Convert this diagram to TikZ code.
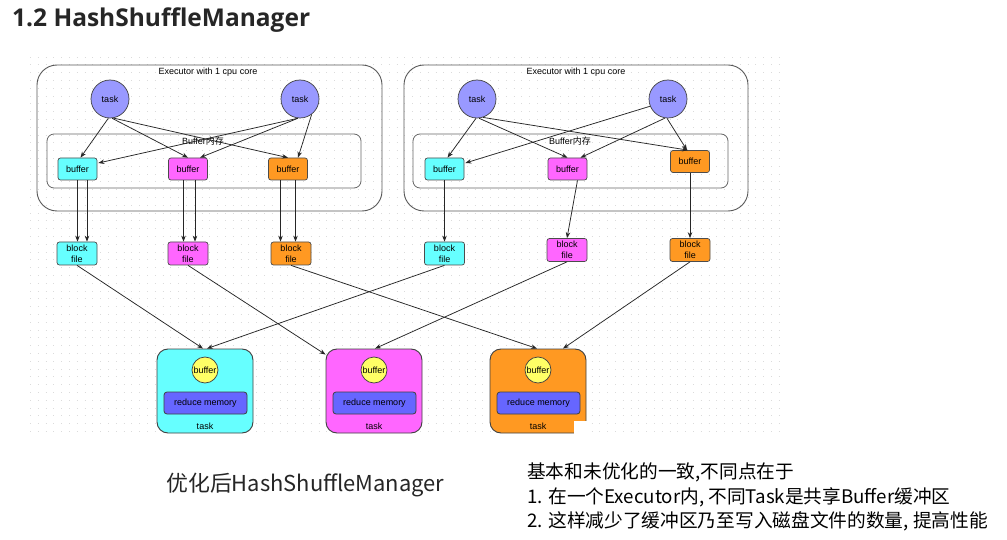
\documentclass[tikz,border=0pt]{standalone}
\usepackage{fontspec}
\setmainfont{Liberation Sans}
\newfontfamily\cjk{Noto Sans CJK SC}
\newfontfamily\ttl{Open Sans}
\usetikzlibrary{arrows.meta,calc}
\definecolor{cy}{HTML}{66FFFF}
\definecolor{mg}{HTML}{FF66FF}
\definecolor{og}{HTML}{FF9922}
\definecolor{tblue}{HTML}{9999FF}
\definecolor{yel}{HTML}{FFFF66}
\definecolor{rblue}{HTML}{6666FF}
\begin{document}
\begin{tikzpicture}[x=1pt,y=-1pt,
  every node/.style={font=\fontsize{9}{10}\selectfont, inner sep=0pt},
  exec/.style={draw=black!65, line width=0.9pt, rounded corners=20pt, minimum height=146pt},
  bufmem/.style={draw=black!60, line width=0.8pt, rounded corners=7pt, minimum height=54pt},
  taskc/.style={circle, draw=black!75, line width=0.7pt, fill=tblue, minimum size=38pt},
  bufbox/.style={draw=black!70, line width=0.7pt, rounded corners=2.5pt, minimum width=39pt, minimum height=22pt},
  blkbox/.style={bufbox, minimum width=40pt, minimum height=23pt, align=center, font=\fontsize{9}{11}\selectfont},
  rtask/.style={draw=black!75, line width=0.9pt, rounded corners=11pt, minimum width=96pt, minimum height=84pt},
  ycirc/.style={circle, draw=black!75, line width=0.7pt, fill=yel, minimum size=26pt},
  redm/.style={draw=black!75, line width=0.8pt, rounded corners=3pt, fill=rblue, minimum width=83pt, minimum height=22pt},
  arr/.style={draw=black!85, line width=0.75pt, -{Stealth[length=6pt,width=4.5pt]}},
  gridl/.style={draw=black!14, line width=0.9pt, dash pattern=on 0.9pt off 6.9pt},
]
\useasboundingbox (0,0) rectangle (1007,540);
\fill[white] (0,0) rectangle (1007,540);
% dotted grid
\foreach \gy in {0,...,48} \draw[gridl] (30,{57+7.8*\gy}) -- (782,{57+7.8*\gy});
% title
\node[anchor=base west, font=\ttl\bfseries\fontsize{24.5}{28}\selectfont, text=black!85] (title) at (12,27) {1.2 HashShuffleManager};
% executors
\node[exec, minimum width=345pt] (exL) at (209.5,138) {};
\node[exec, minimum width=344pt] (exR) at (576,138) {};
\node (exLl) at (208,72) {Executor with 1 cpu core};
\node (exRl) at (576,72) {Executor with 1 cpu core};
\node[bufmem, minimum width=314pt] (bmL) at (204,161) {};
\node[bufmem, minimum width=315pt] (bmR) at (570.5,161) {};
\node (bmLl) at (203,141) {Buffer{\cjk 内存}};
\node (bmRl) at (570,141) {Buffer{\cjk 内存}};
% tasks
\node[taskc] (t1) at (110,99) {task};
\node[taskc] (t2) at (300,99) {task};
\node[taskc] (t3) at (477,99) {task};
\node[taskc] (t4) at (668,99) {task};
% buffers
\node[bufbox, fill=cy] (bc1) at (77.5,169) {buffer};
\node[bufbox, fill=mg] (bm1) at (188,169) {buffer};
\node[bufbox, fill=og] (bo1) at (288,169) {buffer};
\node[bufbox, fill=cy] (bc2) at (444.5,169) {buffer};
\node[bufbox, fill=mg] (bm2) at (567.5,169) {buffer};
\node[bufbox, fill=og] (bo2) at (690,161.5) {buffer};
% block files
\node[blkbox, fill=cy] (bk1) at (77,253.5) {block\\file};
\node[blkbox, fill=mg] (bk2) at (188,253.5) {block\\file};
\node[blkbox, fill=og] (bk3) at (291,253.5) {block\\file};
\node[blkbox, fill=cy] (bk4) at (444.5,253.5) {block\\file};
\node[blkbox, fill=mg] (bk5) at (567,250) {block\\file};
\node[blkbox, fill=og] (bk6) at (690,250) {block\\file};
% reduce tasks
\node[rtask, fill=cy] (rt1) at (205,391) {};
\node[rtask, fill=mg] (rt2) at (374,391) {};
\node[rtask, fill=og] (rt3) at (538,391) {};
\foreach \r/\x in {rt1/205, rt2/374, rt3/538} {
  \node[ycirc] (\r y) at (\x,370) {buffer};
  \node[redm] (\r m) at (\x.5,403) {reduce memory};
  \node (\r l) at (\x,426) {task};
}
\fill[white] (574,421) rectangle (591,440);
% left executor arrows
\draw[arr] (t1.-95) -- ($(bc1.north)+(3,0)$);
\draw[arr] (t1.-84) -- (bm1.north);
\draw[arr] (t1.-80) -- (bo1.north);
\draw[arr] (t2.-96) -- ($(bc1.east)+(1,-6)$);
\draw[arr] (t2.-96) -- ($(bm1.north)+(12,0)$);
\draw[arr] (t2.-53) -- ($(bo1.north)+(10,0)$);
\draw[arr] (bc1.south) -- (bc1.south |- bk1.north);
\coordinate (c1) at ($(bc1.south)+(9.5,0)$);
\draw[arr] (c1) -- (c1 |- bk1.north);
\coordinate (c2) at ($(bm1.south)+(-4.5,0)$);
\draw[arr] (c2) -- (c2 |- bk2.north);
\coordinate (c3) at ($(bm1.south)+(7,0)$);
\draw[arr] (c3) -- (c3 |- bk2.north);
\coordinate (c4) at ($(bo1.south)+(-7.5,0)$);
\draw[arr] (c4) -- (c4 |- bk3.north);
\coordinate (c5) at ($(bo1.south)+(7.5,0)$);
\draw[arr] (c5) -- (c5 |- bk3.north);
% right executor arrows
\draw[arr] (t3.-93) -- ($(bc2.north)+(3,0)$);
\draw[arr] (t3.-84) -- (bm2.north);
\draw[arr] (t3.-72) -- ($(bo2.north)+(-2,0)$);
\draw[arr] (t4.202) -- ($(bc2.east)+(1,-6)$);
\draw[arr] (t4.-99) -- ($(bm2.north)+(13,0)$);
\draw[arr] (t4.-93) -- ($(bo2.north)+(-3,0)$);
\draw[arr] (bc2.south) -- (bk4.north);
\draw[arr] ($(bm2.south)+(10,0)$) -- (bk5.north);
\draw[arr] (bo2.south) -- (bk6.north);
% block files to reduce tasks
\draw[arr] (bk1.south) -- ($(rt1.north)+(-2,0)$);
\draw[arr] (bk2.south) -- ($(rt2.north west)+(0,6)$);
\draw[arr] (bk3.south) -- ($(rt3.north)+(-1,0)$);
\draw[arr] (bk4.south) -- ($(rt1.north)+(2,0)$);
\draw[arr] (bk5.south) -- ($(rt2.north)+(1,0)$);
\draw[arr] (bk6.south) -- ($(rt3.north)+(25,0)$);
% captions
\node[anchor=west, font=\cjk\fontsize{21.9}{24}\selectfont, text=black!85] (cap) at (166,485) {优化后HashShuffleManager};
\node[anchor=west, align=left, font=\cjk\fontsize{18.7}{24.5}\selectfont] (notes) at (527,497) {基本和未优化的一致,不同点在于\\1. 在一个Executor内, 不同Task是共享Buffer缓冲区\\2. 这样减少了缓冲区乃至写入磁盘文件的数量, 提高性能};
\end{tikzpicture}
\end{document}
